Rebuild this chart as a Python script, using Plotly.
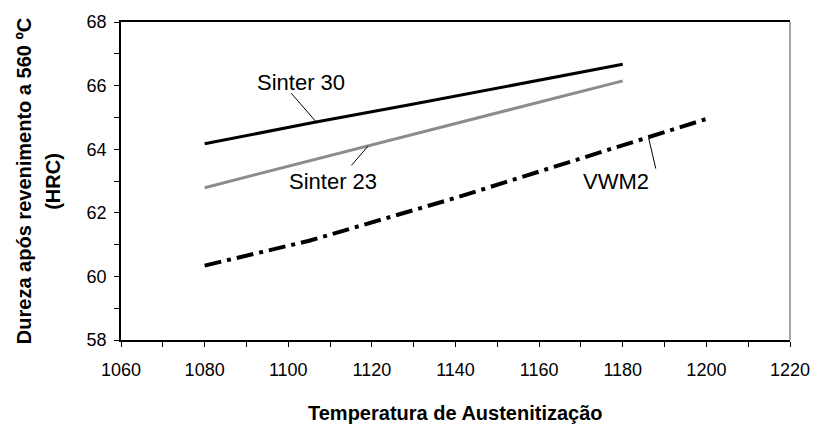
import plotly.graph_objects as go

# Data
temp_sinter = [1080, 1106, 1130, 1155, 1180]
sinter30 = [64.17, 64.84, 65.42, 66.05, 66.67]
sinter23 = [62.79, 63.66, 64.46, 65.30, 66.15]
temp_vwm2 = [1080, 1105, 1140, 1186, 1200]
vwm2 = [60.34, 61.12, 62.47, 64.35, 64.95]

x_ticks = [1060, 1080, 1100, 1120, 1140, 1160, 1180, 1200, 1220]
y_ticks = [58, 60, 62, 64, 66, 68]

FONT = "Liberation Sans, Arial, sans-serif"

fig = go.Figure()
fig.add_trace(go.Scatter(x=temp_sinter, y=sinter30, mode="lines",
                         line=dict(color="black", width=3), name="Sinter 30"))
fig.add_trace(go.Scatter(x=temp_sinter, y=sinter23, mode="lines",
                         line=dict(color="#8c8c8c", width=3), name="Sinter 23"))
fig.add_trace(go.Scatter(x=temp_vwm2, y=vwm2, mode="lines",
                         line=dict(color="black", width=4, dash="17px,6px,4px,6px"),
                         name="VWM2"))

# Series labels and leader lines
labels = [
    ("Sinter 30", 1103.0, 66.10, (1100.7, 65.76), (1106.6, 64.87)),
    ("Sinter 23", 1110.6, 63.00, (1115.1, 63.49), (1119.1, 64.10)),
    ("VWM2", 1178.4, 62.97, (1187.9, 63.39), (1186.2, 64.35)),
]
for text, tx, ty, p0, p1 in labels:
    fig.add_annotation(x=tx, y=ty, text=text, showarrow=False,
                       font=dict(family=FONT, size=22, color="black"))
    fig.add_shape(type="line", x0=p0[0], y0=p0[1], x1=p1[0], y1=p1[1],
                  xref="x", yref="y", line=dict(color="black", width=1))

# Right border (grey)
fig.add_shape(type="line", xref="paper", yref="paper", x0=1, x1=1, y0=0, y1=1,
              line=dict(color="#8a8a8a", width=1.5))

# Axis titles
fig.add_annotation(xref="paper", yref="paper", x=0.5, y=-0.231,
                   text="<b>Temperatura de Austenitização</b>", showarrow=False,
                   font=dict(family=FONT, size=20, color="black"), yanchor="middle")
fig.add_annotation(xref="paper", yref="paper", x=-0.1448, y=0.5,
                   text="<b>Dureza após revenimento a 560 ºC</b>", showarrow=False,
                   textangle=-90, font=dict(family=FONT, size=20, color="black"),
                   xanchor="center", yanchor="middle")
fig.add_annotation(xref="paper", yref="paper", x=-0.1019, y=0.5,
                   text="<b>(HRC)</b>", showarrow=False,
                   textangle=-90, font=dict(family=FONT, size=20, color="black"),
                   xanchor="center", yanchor="middle")

fig.update_xaxes(range=[1060, 1220], tickvals=x_ticks, ticktext=[str(v) for v in x_ticks],
                 showgrid=False, zeroline=False, showline=True, linecolor="black",
                 linewidth=1.5, mirror=True, ticks="outside", ticklen=5, tickwidth=1,
                 tickcolor="black", ticklabelstandoff=8,
                 tickfont=dict(family=FONT, size=18, color="black"),
                 minor=dict(dtick=10, tick0=1060, ticks="outside", ticklen=5,
                            tickcolor="black", tickwidth=1))
fig.update_yaxes(range=[58, 68], tickvals=y_ticks, ticktext=[str(v) for v in y_ticks],
                 showgrid=False, zeroline=False, showline=True, linecolor="black",
                 linewidth=1.5, ticks="outside", ticklen=5, tickwidth=1,
                 tickcolor="black", ticklabelstandoff=4,
                 tickfont=dict(family=FONT, size=18, color="black"),
                 minor=dict(dtick=1, tick0=58, ticks="outside", ticklen=5,
                            tickcolor="black", tickwidth=1))

fig.update_layout(width=822, height=425, margin=dict(l=121, r=24, t=15, b=85),
                  plot_bgcolor="white", paper_bgcolor="white", showlegend=False)

fig.write_html("out.html")
